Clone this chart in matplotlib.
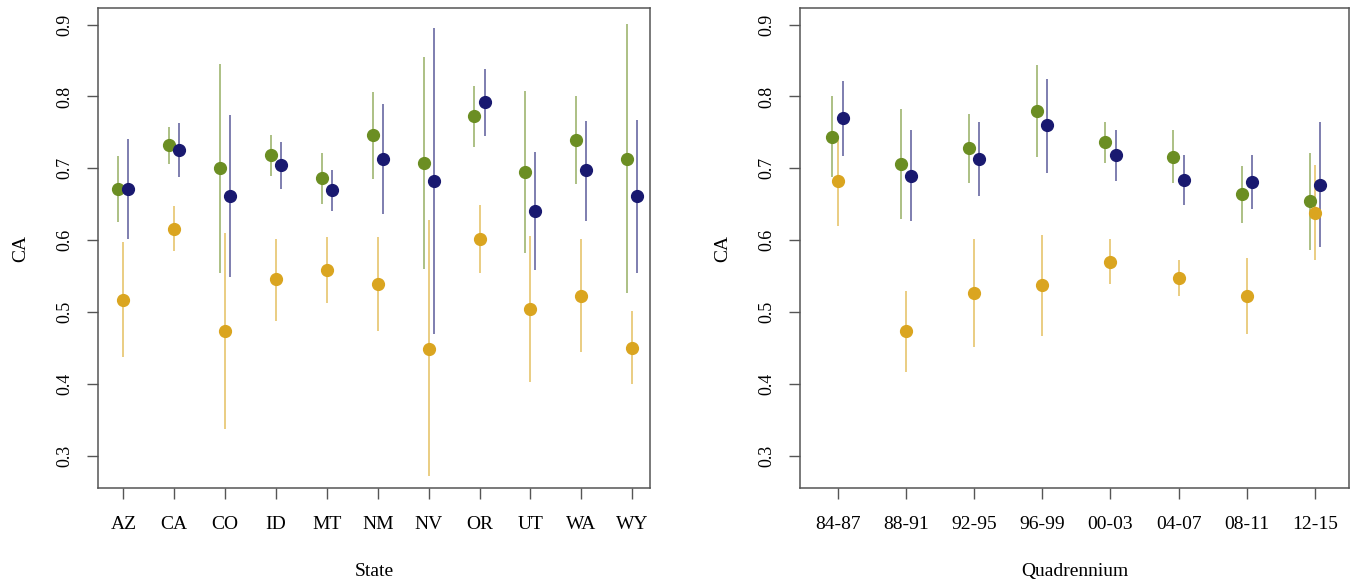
import numpy as np
import matplotlib
matplotlib.use("Agg")
from matplotlib import pyplot as plt

plt.rcParams['font.family'] = ['Liberation Serif', 'DejaVu Serif']

# left panel: by state
states = ['AZ', 'CA', 'CO', 'ID', 'MT', 'NM', 'NV', 'OR', 'UT', 'WA', 'WY']
st_green    = [0.671, 0.732, 0.700, 0.719, 0.686, 0.746, 0.708, 0.773, 0.695, 0.739, 0.713]
st_green_lo = [0.625, 0.706, 0.554, 0.689, 0.651, 0.685, 0.560, 0.730, 0.582, 0.678, 0.526]
st_green_hi = [0.717, 0.757, 0.845, 0.747, 0.721, 0.806, 0.855, 0.815, 0.808, 0.800, 0.901]
st_navy     = [0.671, 0.726, 0.662, 0.704, 0.670, 0.713, 0.682, 0.792, 0.641, 0.697, 0.661]
st_navy_lo  = [0.601, 0.688, 0.549, 0.671, 0.641, 0.636, 0.469, 0.745, 0.558, 0.627, 0.554]
st_navy_hi  = [0.741, 0.763, 0.774, 0.736, 0.697, 0.790, 0.896, 0.838, 0.723, 0.766, 0.767]
st_orange    = [0.517, 0.616, 0.474, 0.546, 0.559, 0.539, 0.449, 0.601, 0.504, 0.523, 0.450]
st_orange_lo = [0.437, 0.585, 0.337, 0.488, 0.513, 0.473, 0.272, 0.554, 0.403, 0.444, 0.400]
st_orange_hi = [0.597, 0.648, 0.610, 0.602, 0.605, 0.604, 0.628, 0.649, 0.606, 0.602, 0.501]

# right panel: by quadrennium
quads = ['84-87', '88-91', '92-95', '96-99', '00-03', '04-07', '08-11', '12-15']
qd_green    = [0.744, 0.706, 0.728, 0.780, 0.737, 0.716, 0.664, 0.654]
qd_green_lo = [0.688, 0.629, 0.680, 0.716, 0.708, 0.679, 0.624, 0.587]
qd_green_hi = [0.800, 0.782, 0.775, 0.844, 0.764, 0.754, 0.703, 0.721]
qd_navy     = [0.770, 0.689, 0.713, 0.760, 0.718, 0.684, 0.681, 0.677]
qd_navy_lo  = [0.717, 0.627, 0.661, 0.694, 0.682, 0.649, 0.643, 0.590]
qd_navy_hi  = [0.822, 0.753, 0.765, 0.825, 0.753, 0.719, 0.718, 0.764]
qd_orange    = [0.683, 0.474, 0.526, 0.537, 0.570, 0.547, 0.522, 0.638]
qd_orange_lo = [0.620, 0.417, 0.451, 0.466, 0.539, 0.523, 0.469, 0.572]
qd_orange_hi = [0.745, 0.529, 0.601, 0.607, 0.601, 0.572, 0.575, 0.705]

GREEN = '#6B8E23'
NAVY = '#191970'
ORANGE = '#DAA520'


def panel(ax, labels, series, off, xlim, xlabel):
    x = np.arange(1, len(labels) + 1)
    for (pt, lo, hi, col, dx) in series:
        ax.vlines(x + dx * off, lo, hi, color=col, alpha=0.6, lw=1.3, zorder=2)
    for (pt, lo, hi, col, dx) in series:
        ax.plot(x + dx * off, pt, 'o', color=col, ms=8.5, mec=col, zorder=3)
    ax.set_xlim(*xlim)
    ax.set_ylim(0.255, 0.923)
    ax.set_xticks(x)
    ax.set_xticklabels(labels)
    ax.set_yticks([0.3, 0.4, 0.5, 0.6, 0.7, 0.8, 0.9])
    ax.set_yticklabels(['0.3', '0.4', '0.5', '0.6', '0.7', '0.8', '0.9'],
                       rotation=90, va='center')
    ax.tick_params(axis='x', length=8, width=1, color='#555555', pad=12, labelsize=14)
    ax.tick_params(axis='y', length=8, width=1, color='#555555', pad=10, labelsize=13)
    for s in ax.spines.values():
        s.set_color('#555555')
        s.set_linewidth(1.1)
    ax.set_xlabel(xlabel, fontsize=14, labelpad=22)
    ax.set_ylabel('CA', fontsize=14, labelpad=19)


fig = plt.figure(figsize=(13.51, 5.81), dpi=100)
ax1 = fig.add_axes([0.0725, 0.160, 0.4086, 0.826])
ax2 = fig.add_axes([0.5922, 0.160, 0.4064, 0.826])

panel(ax1, states,
      [(st_green, st_green_lo, st_green_hi, GREEN, -1),
       (st_orange, st_orange_lo, st_orange_hi, ORANGE, 0),
       (st_navy, st_navy_lo, st_navy_hi, NAVY, 1)],
      0.1, (0.5, 11.35), 'State')
panel(ax2, quads,
      [(qd_green, qd_green_lo, qd_green_hi, GREEN, -1),
       (qd_orange, qd_orange_lo, qd_orange_hi, ORANGE, 0),
       (qd_navy, qd_navy_lo, qd_navy_hi, NAVY, 1)],
      0.075, (0.45, 8.5), 'Quadrennium')

fig.savefig('out.png', dpi=100)
